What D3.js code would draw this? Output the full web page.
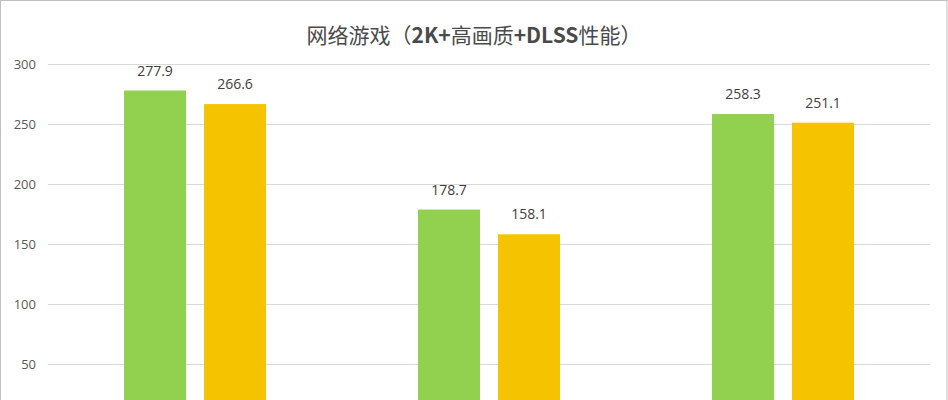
<!DOCTYPE html>
<html>
<head>
<meta charset="utf-8">
<script src="https://cdn.jsdelivr.net/npm/d3@7"></script>
<style>
  body { margin: 0; background: #fff; }
  svg { display: block; }
</style>
</head>
<body>
<div id="vis"></div>
<script>
// data
let groups = ['A', 'B', 'C']
let seriesNames = ['s1', 's2']
let series1 = [277.9, 178.7, 258.3]
let series2 = [266.6, 158.1, 251.1]
// the 0 line falls below the visible area
let yTicks = [50, 100, 150, 200, 250, 300]
let colors = ['#92d050', '#f5c300']

let width = 948, height = 400

let svg = d3.select('#vis')
  .append('svg')
  .attr('width', width)
  .attr('height', height)

// outer frame
svg.append('rect')
  .attr('x', 0.5).attr('y', 0.5)
  .attr('width', width - 1.5).attr('height', height + 10)
  .attr('fill', 'none')
  .attr('stroke', '#bfbfbf')

let x0 = d3.scaleBand()
  .domain(groups)
  .range([48, 930])

let x1 = d3.scaleBand()
  .domain(seriesNames)
  .range([0, x0.bandwidth()])
  .paddingInner(0.225)
  .paddingOuter(0.95)

let yScale = d3.scaleLinear()
  .domain([0, 300])
  .range([424, 64])

// grid + tick labels
let yAxis = svg.append('g')
  .call(d3.axisLeft(yScale).tickValues(yTicks).tickSize(-(930 - 48)).tickPadding(12))
  .attr('transform', 'translate(48,0)')
yAxis.select('.domain').remove()
yAxis.selectAll('.tick line').attr('stroke', '#d9d9d9')
yAxis.selectAll('.tick text')
  .attr('fill', '#595959')
  .attr('font-family', 'Open Sans, Noto Sans, sans-serif')
  .attr('font-size', '13px')

let data = groups.map((g, i) => ({
  group: g,
  values: [
    { key: seriesNames[0], value: series1[i] },
    { key: seriesNames[1], value: series2[i] }
  ]
}))

let colorScale = d3.scaleOrdinal().domain(seriesNames).range(colors)

let gGroups = svg.selectAll('.grp')
  .data(data)
  .join('g')
  .attr('class', 'grp')
  .attr('transform', d => `translate(${x0(d.group)},0)`)

gGroups.selectAll('rect')
  .data(d => d.values)
  .join('rect')
  .attr('x', d => x1(d.key))
  .attr('y', d => yScale(d.value))
  .attr('width', x1.bandwidth())
  .attr('height', d => yScale(0) - yScale(d.value))
  .attr('fill', d => colorScale(d.key))

gGroups.selectAll('.lbl')
  .data(d => d.values)
  .join('text')
  .attr('class', 'lbl')
  .attr('x', d => x1(d.key) + x1.bandwidth() / 2)
  .attr('y', d => yScale(d.value) - 15)
  .attr('text-anchor', 'middle')
  .attr('fill', '#404040')
  .attr('font-family', 'Open Sans, Noto Sans, sans-serif')
  .attr('font-size', '14px')
  .text(d => d.value.toFixed(1))

// title, latin parts in bold
let title = svg.append('text')
  .attr('x', width / 2)
  .attr('y', 43)
  .attr('text-anchor', 'middle')
  .attr('fill', '#4a4a4a')
  .attr('font-family', 'Noto Sans CJK SC, sans-serif')
  .attr('font-size', '21px')

let titleParts = [
  ['网络游戏（', 'normal'],
  ['2K+', 'bold'],
  ['高画质', 'normal'],
  ['+DLSS', 'bold'],
  ['性能）', 'normal']
]
title.selectAll('tspan')
  .data(titleParts)
  .join('tspan')
  .attr('font-weight', d => d[1])
  .text(d => d[0])
</script>
</body>
</html>
